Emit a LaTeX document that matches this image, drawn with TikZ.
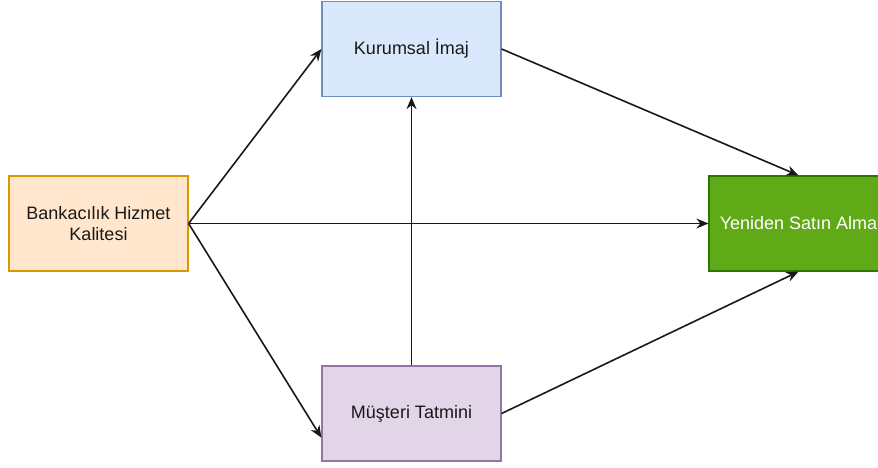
\documentclass[tikz,border=0pt]{standalone}
\usepackage{fontspec}
\setmainfont{Liberation Sans}
\usetikzlibrary{arrows.meta}
\definecolor{bluefill}{HTML}{DAE8FC}
\definecolor{blueline}{HTML}{6C8EBF}
\definecolor{orangefill}{HTML}{FFE6CC}
\definecolor{orangeline}{HTML}{D79B00}
\definecolor{greenfill}{HTML}{60A917}
\definecolor{greenline}{HTML}{2D7600}
\definecolor{purplefill}{HTML}{E1D5E7}
\definecolor{purpleline}{HTML}{9673A6}
\tikzset{
  box/.style={rectangle, draw, line width=1.2pt, minimum width=179pt, minimum height=95pt,
    inner sep=0pt, align=center, font=\fontsize{18}{21.5}\selectfont, text=black!90},
  conn/.style={line width=1.6pt, draw=black!90, -{Stealth[length=12pt,width=10pt]}}
}
\begin{document}
\begin{tikzpicture}[x=1pt,y=-1pt]
\useasboundingbox (0,0) rectangle (878,468);
\fill[white] (0,0) rectangle (878,468);
\node[box, fill=bluefill, draw=blueline] (ki) at (411.5,49) {Kurumsal İmaj};
\node[box, fill=orangefill, draw=orangeline] (bhk) at (98.5,223.5) {Bankacılık Hizmet\\Kalitesi};
\node[box, fill=greenfill, draw=greenline, text=white] (ysa) at (798.5,223.5) {Yeniden Satın Alma};
\node[box, fill=purplefill, draw=purpleline] (mt) at (411.5,413.5) {Müşteri Tatmini};
\draw[conn] (bhk.east) -- (ki.west);
\draw[conn] (bhk.east) -- (ysa.west);
\draw[conn] (bhk.east) -- (mt.195);
\draw[conn] (ki.east) -- (ysa.north);
\draw[conn] (mt.east) -- (ysa.south);
\draw[conn] (mt.north) -- (ki.south);
\end{tikzpicture}
\end{document}
